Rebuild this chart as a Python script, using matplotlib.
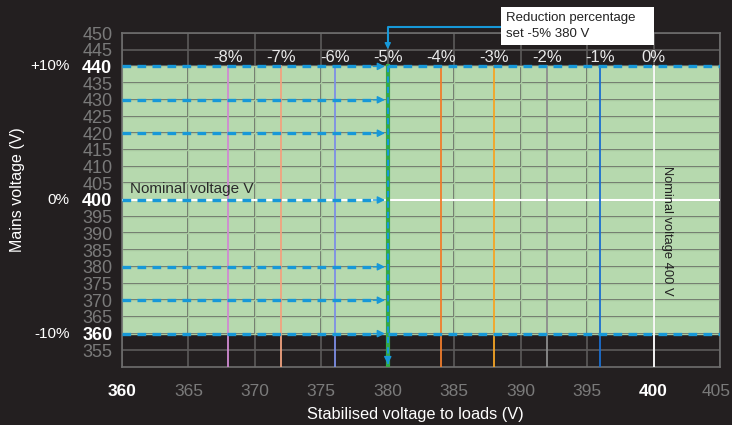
import matplotlib.pyplot as plt
import numpy as np

plt.rcParams['font.family'] = ['Liberation Sans', 'DejaVu Sans']

# data
x_ticks = [360, 365, 370, 375, 380, 385, 390, 395, 400, 405]
y_ticks = [355, 360, 365, 370, 375, 380, 385, 390, 395, 400, 405, 410, 415, 420, 425, 430, 435, 440, 445, 450]
band_low, band_high = 360, 440
nominal = 400
set_voltage = 380
pct_labels = ['-8%', '-7%', '-6%', '-5%', '-4%', '-3%', '-2%', '-1%', '0%']
pct_voltages = [368, 372, 376, 380, 384, 388, 392, 396, 400]
pct_colors = ['#d08ad2', '#f2a27f', '#7d8ee6', '#35a846', '#f07d2c', '#f5a425', '#8c8c8c', '#1a6ed0', '#ffffff']
arrow_levels = [440, 430, 420, 400, 380, 370, 360]
side_labels = {440: '+10%', 400: '0%', 360: '-10%'}

bg = '#231f20'
blue = '#1798d8'

fig = plt.figure(figsize=(7.32, 4.25), dpi=100, facecolor=bg)
ax = fig.add_axes([122/732, 58/425, 598/732, 334/425])
ax.set_facecolor(bg)
ax.set_xlim(360, 405)
ax.set_ylim(350, 450)

ax.axhspan(band_low, band_high, color='#b6d9ae', zorder=0.2, lw=0)

ax.set_xticks(x_ticks)
ax.set_yticks(y_ticks)
ax.set_axisbelow(True)
ax.grid(True, color='#5c5a5a', lw=1.2)
# lighter grid inside the green band
ax.vlines(x_ticks, band_low, band_high, color='#a8c9a0', lw=1, zorder=0.6)
ax.hlines([y for y in y_ticks if band_low <= y <= band_high], 360, 405, color='#a8c9a0', lw=1, zorder=0.6)
for s in ax.spines.values():
    s.set_color('#6e6e6e')
    s.set_linewidth(1.2)

ax.tick_params(length=0, colors='#7a7a7a')
ax.tick_params(axis='x', pad=12, labelsize=12.5)
ax.tick_params(axis='y', pad=7, labelsize=13)
ax.set_xticklabels([str(v) if v != 405 else '' for v in x_ticks])
for lab, v in zip(ax.get_yticklabels(), y_ticks):
    if v in side_labels:
        lab.set_color('white')
        lab.set_fontweight('bold')
for lab, v in zip(ax.get_xticklabels(), x_ticks):
    if v in (360, 400):
        lab.set_color('white')
        lab.set_fontweight('bold')
# last x label sits against the figure edge
ax.annotate(str(x_ticks[-1]), xy=(x_ticks[-1], 0), xycoords=ax.get_xaxis_transform(),
            xytext=(8, -18), textcoords='offset points', ha='right', va='center',
            color='#7a7a7a', fontsize=12.5, annotation_clip=False)

# reduction lines
for lab, v, c in zip(pct_labels, pct_voltages, pct_colors):
    lw = 3 if v == set_voltage else 1.3
    ax.plot([v, v], [350, band_high], color=c, lw=lw, zorder=3)
    ax.text(v, 442.8, lab, color='#e8e8e8', fontsize=12, ha='center', va='center', zorder=4)

# nominal line
ax.axhline(nominal, color='white', lw=1.5, zorder=2.8)

# dashed arrows towards the set voltage
for y in arrow_levels:
    ax.plot([360, set_voltage - 1.2], [y, y], color=blue, lw=2.4, dashes=(2.6, 1.9), zorder=5)
    ax.annotate('', xy=(set_voltage, y), xytext=(set_voltage - 1.3, y),
                arrowprops=dict(arrowstyle='-|>', color=blue, lw=1, mutation_scale=11), zorder=6)
for y in (band_low, band_high):
    ax.plot([set_voltage, 405], [y, y], color=blue, lw=2.4, dashes=(2.6, 1.9), zorder=5)

# vertical set line
ax.plot([set_voltage, set_voltage], [band_high, 351], color=blue, lw=1.5, dashes=(3, 2), zorder=5)
ax.annotate('', xy=(set_voltage, 350), xytext=(set_voltage, 353),
            arrowprops=dict(arrowstyle='-|>', color=blue, lw=1, mutation_scale=11),
            annotation_clip=False, zorder=6)

# annotation box and connector
ax.plot([388.5, set_voltage, set_voltage], [451.8, 451.8, 446], color=blue, lw=1.5,
        clip_on=False, zorder=6)
ax.annotate('', xy=(set_voltage, 444.3), xytext=(set_voltage, 447),
            arrowprops=dict(arrowstyle='-|>', color=blue, lw=1, mutation_scale=9),
            annotation_clip=False, zorder=6)
ax.add_patch(plt.Rectangle((388.5, 446.4), 400 - 388.5, 457.8 - 446.4, facecolor='white',
                           edgecolor='none', clip_on=False, zorder=7))
ax.text(388.9, 452.1, 'Reduction percentage\nset -5% 380 V', color='#222222', fontsize=9.5,
        ha='left', va='center', linespacing=1.35, zorder=8)

ax.text(360.6, 403.3, 'Nominal voltage V', color='#2a2a2a', fontsize=11, ha='left', va='center', zorder=4)
ax.text(401.0, 390.7, 'Nominal voltage 400 V', color='#222222', fontsize=9.3, rotation=270,
        ha='center', va='center', zorder=4)

# side percentage labels
for v, t in side_labels.items():
    ax.text(-0.088, v, t, transform=ax.get_yaxis_transform(), color='white', fontsize=11,
            ha='right', va='center')

fig.text(18/732, (425 - 190)/425, 'Mains voltage (V)', color='white', fontsize=11.5,
         rotation=90, ha='center', va='center')
fig.text(415/732, 10/425, 'Stabilised voltage to loads (V)', color='white', fontsize=11.8,
         ha='center', va='center')

fig.savefig('out.png', dpi=100, facecolor=bg)
